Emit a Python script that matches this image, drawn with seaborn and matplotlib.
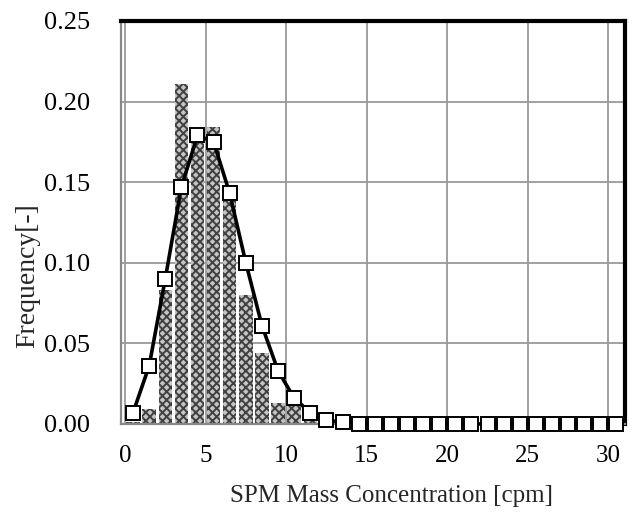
import matplotlib
matplotlib.use("Agg")
import matplotlib.pyplot as plt
import pandas as pd
import seaborn as sns

# bin centres of the histogram [cpm]
conc = [0.5, 1.5, 2.5, 3.5, 4.5, 5.5, 6.5, 7.5, 8.5, 9.5, 10.5,
        11.5, 12.5, 13.5, 14.5, 15.5, 16.5, 17.5, 18.5, 19.5, 20.5,
        21.5, 22.5, 23.5, 24.5, 25.5, 26.5, 27.5, 28.5, 29.5, 30.5]
# measured frequency (bars)
measured = [0.001, 0.009, 0.083, 0.211, 0.183, 0.184, 0.143, 0.080, 0.044, 0.013, 0.011,
            0.003, 0, 0, 0, 0, 0, 0, 0, 0, 0,
            0, 0, 0, 0, 0, 0, 0, 0, 0, 0]
# fitted distribution (line + squares)
fitted = [0.007, 0.036, 0.090, 0.147, 0.179, 0.175, 0.143, 0.100, 0.061, 0.033, 0.016,
          0.007, 0.0025, 0.001, 0, 0, 0, 0, 0, 0, 0,
          0, 0, 0, 0, 0, 0, 0, 0, 0, 0]
bin_edges = [c - 0.5 for c in conc] + [conc[-1] + 0.5]

df = pd.DataFrame({"conc": conc, "measured": measured, "fitted": fitted})

sns.set_style("white")
plt.rcParams["font.family"] = ["Liberation Serif", "DejaVu Serif"]
plt.rcParams["hatch.linewidth"] = 1.4

fig = plt.figure(figsize=(6.4, 5.12), dpi=100)
ax = fig.add_axes([0.189, 0.172, 0.788, 0.787])

sns.histplot(data=df, x="conc", weights="measured", bins=bin_edges, shrink=0.83,
             stat="count", element="bars", fill=True, color="white",
             alpha=1, ax=ax, zorder=2)
for p in ax.patches:
    p.set_facecolor("#c4c4c4")
    p.set_edgecolor("#404040")
    p.set_linewidth(0)
    p.set_hatch("xxxx")

sns.lineplot(data=df, x="conc", y="fitted", color="black", linewidth=2.6,
             marker="s", markersize=9.5, markerfacecolor="white",
             markeredgecolor="black", markeredgewidth=1.4, ax=ax, zorder=3,
             clip_on=False)

ax.set_xlim(-0.25, 31.05)
ax.set_ylim(0, 0.25)
ax.set_xticks([0, 5, 10, 15, 20, 25, 30])
ax.set_yticks([0.0, 0.05, 0.10, 0.15, 0.20, 0.25])
ax.set_yticklabels(["0.00", "0.05", "0.10", "0.15", "0.20", "0.25"])
ax.grid(True, color="#999999", linewidth=1.3, zorder=0)
ax.set_axisbelow(True)
ax.tick_params(axis="both", length=0, colors="black")
ax.tick_params(axis="y", pad=22, labelsize=19)
ax.tick_params(axis="x", pad=15, labelsize=18)

for side in ["top", "right"]:
    ax.spines[side].set_color("black")
    ax.spines[side].set_linewidth(3)
for side in ["left", "bottom"]:
    ax.spines[side].set_color("#888888")
    ax.spines[side].set_linewidth(1.6)

ax.set_xlabel("SPM Mass Concentration [cpm]", fontsize=18)
ax.set_ylabel("Frequency[-]", fontsize=20)
ax.xaxis.set_label_coords(0.536, -0.151)
ax.yaxis.set_label_coords(-0.16, 0.367)

fig.savefig("out.png", dpi=100)
